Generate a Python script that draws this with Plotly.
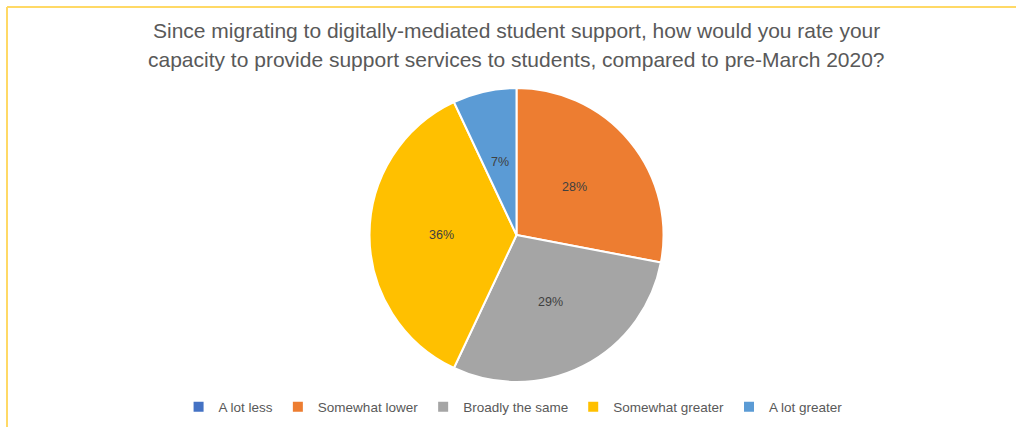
import math
import plotly.graph_objects as go

categories = ["A lot less", "Somewhat lower", "Broadly the same", "Somewhat greater", "A lot greater"]
values = [0, 28, 29, 36, 7]
colors = ["#4472C4", "#ED7D31", "#A5A5A5", "#FFC000", "#5B9BD5"]
title_lines = ["Since migrating to digitally-mediated student support, how would you rate your",
               "capacity to provide support services to students, compared to pre-March 2020?"]

W, H = 1016, 427
cx, cy, r = 516.5, 235, 147
FONT = "Liberation Sans, Arial, sans-serif"

fig = go.Figure(go.Pie(
    labels=categories, values=values, textinfo="none",
    sort=False, direction="clockwise", rotation=0,
    marker=dict(colors=colors, line=dict(color="white", width=2)),
    domain=dict(x=[(cx - r) / W, (cx + r) / W], y=[1 - (cy + r) / H, 1 - (cy - r) / H]),
    hoverinfo="label+percent",
))

# percentage labels placed at about half radius along each slice's mid-angle
total = sum(values)
annotations = []
cum = 0
for v in values:
    if v > 0:
        mid = (cum + v / 2) / total * 2 * math.pi
        px = cx + 0.51 * r * math.sin(mid)
        py = cy - 0.51 * r * math.cos(mid)
        annotations.append(dict(x=px / W, y=1 - py / H, xref="paper", yref="paper",
                                text=f"{round(v / total * 100)}%", showarrow=False,
                                xanchor="center", yanchor="middle",
                                font=dict(family=FONT, size=12.5, color="#404040")))
    cum += v

for i, line in enumerate(title_lines):
    annotations.append(dict(x=516.5 / W, y=1 - (31 + 28.5 * i) / H, xref="paper", yref="paper",
                            text=line, showarrow=False, xanchor="center", yanchor="middle",
                            font=dict(family=FONT, size=21, color="#595959")))

fig.update_layout(
    width=W, height=H, margin=dict(l=0, r=0, t=0, b=0),
    paper_bgcolor="white", plot_bgcolor="white",
    annotations=annotations,
    legend=dict(orientation="h", x=0.505, xanchor="center", y=1 - 407 / H, yanchor="middle",
                font=dict(family=FONT, size=13.5, color="#595959"),
                traceorder="normal", itemwidth=30),
    shapes=[
        dict(type="line", xref="paper", yref="paper", x0=7 / W, x1=1.1, y0=1 - 7 / H, y1=1 - 7 / H,
             line=dict(color="#FFD966", width=2)),
        dict(type="line", xref="paper", yref="paper", x0=7 / W, x1=7 / W, y0=1 - 7 / H, y1=-0.1,
             line=dict(color="#FFD966", width=2)),
    ],
)

fig.write_html("out.html")
